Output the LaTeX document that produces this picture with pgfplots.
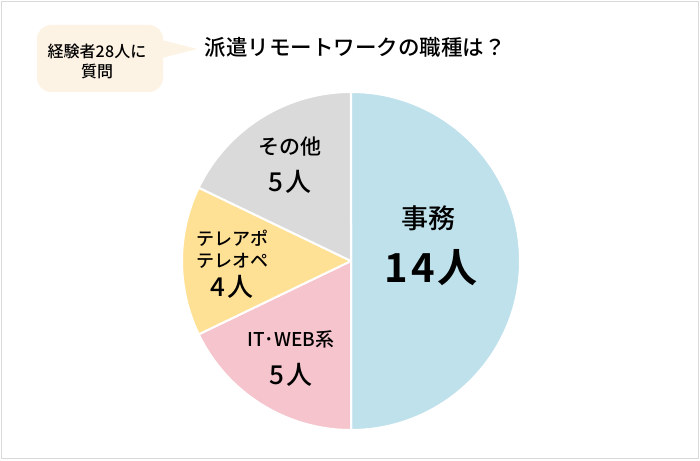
\documentclass[border=0pt]{standalone}
\usepackage{fontspec}
\setmainfont{Noto Sans CJK JP}[UprightFont={* Medium}, BoldFont={* Bold}]
\usepackage{pgfplots}
\usepackage{pgfplotstable}
\pgfplotsset{compat=1.18}
\definecolor{cJimu}{HTML}{BFE1EC}
\definecolor{cIT}{HTML}{F5C4CC}
\definecolor{cTel}{HTML}{FFE196}
\definecolor{cOther}{HTML}{DADADA}
\definecolor{bubble}{HTML}{FDF3E4}
\definecolor{frame}{HTML}{D9D9D9}
\pgfplotstableread{
label value
Jimu 14
IT 5
Tel 4
Other 5
}\piedata
\begin{document}
\begin{tikzpicture}
\begin{axis}[x=1pt,y=1pt,xmin=0,xmax=700,ymin=0,ymax=460,hide axis,clip=false,scale only axis]
\path (axis cs:0,0) rectangle (axis cs:700,460);
\draw[frame, line width=1.5pt] (axis cs:1.5,1.5) rectangle (axis cs:698.5,458.5);
\pgfplotsextra{
  \gdef\startang{90}
  \foreach \i/\col in {0/cJimu,1/cIT,2/cTel,3/cOther}{
    \pgfplotstablegetelem{\i}{value}\of\piedata
    \pgfmathsetmacro\endang{\startang-\pgfplotsretval/28*360}
    \filldraw[fill=\col, draw=white, line width=2pt, line join=round] (axis cs:351,199) -- ++(\startang:169pt) arc[start angle=\startang,end angle=\endang,radius=169pt] -- cycle;
    \xdef\startang{\endang}
  }
}
% bubble
\fill[bubble, rounded corners=14pt] (axis cs:37,368) rectangle (axis cs:163,435);
\fill[bubble] (axis cs:158,421) -- (axis cs:197,411) -- (axis cs:158,401) -- cycle;
\node[font=\fontsize{16}{20}\selectfont, align=center] at (axis cs:97,399) {経験者2\kern0.5pt8人に\\質問};
% title
\node[font=\fontsize{21.5}{26}\selectfont] at (axis cs:355,413) {派遣リモートワークの職種は？};
% labels
\node[font=\fontsize{21}{25}\selectfont] at (axis cs:290,313) {その他};
\node[font=\fontsize{26}{30}\selectfont] at (axis cs:290,278) {5\kern2pt人};
\node[font=\fontsize{18}{22}\selectfont, align=center] at (axis cs:232,211) {テレアポ\\テレオペ};
\node[font=\fontsize{26}{30}\selectfont] at (axis cs:232,173) {4\kern2pt人};
\node[font=\fontsize{19}{23}\selectfont] at (axis cs:291,121) {IT･WEB系};
\node[font=\fontsize{26}{30}\selectfont] at (axis cs:291,85) {5\kern2pt人};
\node[font=\fontsize{27}{32}\selectfont] at (axis cs:428,242) {事務};
\node[font=\bfseries\fontsize{40}{46}\selectfont] at (axis cs:431,192) {1\kern3pt4\kern3pt人};
\end{axis}
\end{tikzpicture}
\end{document}
